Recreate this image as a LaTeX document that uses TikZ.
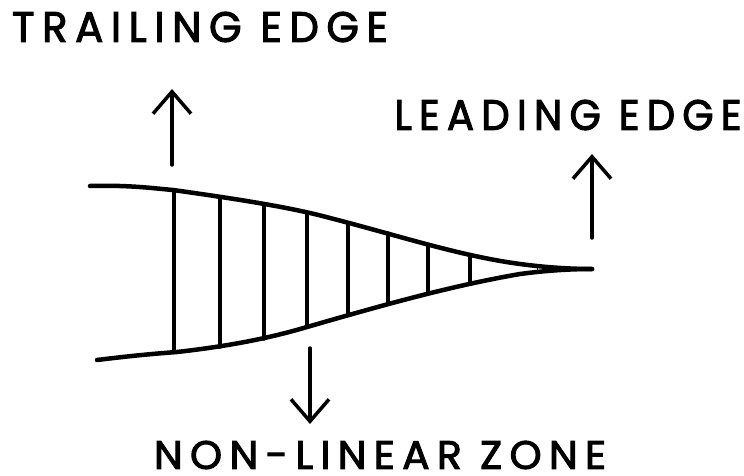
\documentclass[tikz,border=0pt]{standalone}
\usepackage{fontspec}
\setmainfont{Poppins}
\newfontfamily\hand[LetterSpace=18,FakeBold=2.5]{Poppins}
\usetikzlibrary{arrows.meta}
\newcommand{\handtext}[3]{\resizebox{#1}{#2}{\hand\fontsize{40}{40}\selectfont #3}}
\begin{document}
\begin{tikzpicture}[x=1pt,y=-1pt,
  lbl/.style={inner sep=0pt, anchor=center},
  edgeline/.style={line width=4.5pt, line cap=round, line join=round},
  rung/.style={line width=3.5pt, line cap=round},
  arr/.style={line width=3.5pt, line cap=round, -{Straight Barb[length=22pt,width=38pt,line width=3.5pt]}}]
\useasboundingbox (0,0) rectangle (744,476);
% labels
\node[lbl] (te) at (200,27) {\handtext{376pt}{30pt}{TRAILING EDGE}};
\node[lbl] (le) at (568,115) {\handtext{347pt}{30pt}{LEADING EDGE}};
\node[lbl] (nl) at (380,455) {\handtext{452pt}{28pt}{NON-LINEAR ZONE}};
% outline
\draw[edgeline] (90,186) .. controls (130,185) and (150,188) .. (173,190)
  .. controls (230,198) and (290,207) .. (330,218)
  .. controls (400,236) and (460,256) .. (520,264)
  .. controls (550,268) and (575,269) .. (592,269);
\draw[edgeline] (97,360) .. controls (130,356) and (150,354) .. (177,352)
  .. controls (230,346) and (270,338) .. (307,327)
  .. controls (380,306) and (450,286) .. (520,274)
  .. controls (550,270) and (575,269) .. (592,269);
% rungs
\foreach \x/\a/\b in {174/190/352, 220/197/347, 264/204/339, 307/212/327, 348/224/314, 388/233/303, 428/246/292, 470/257/282}
  \draw[rung] (\x,\a) -- (\x,\b);
\draw[line width=1pt] (537,266) -- (537,272);
% arrows
\coordinate (t0) at (172,165); \coordinate (t1) at (172,89);
\coordinate (l0) at (592,238); \coordinate (l1) at (592,154);
\coordinate (n0) at (310,348); \coordinate (n1) at (310,424);
\draw[arr] (t0) -- (t1);
\draw[arr] (l0) -- (l1);
\draw[arr] (n0) -- (n1);
\end{tikzpicture}
\end{document}
